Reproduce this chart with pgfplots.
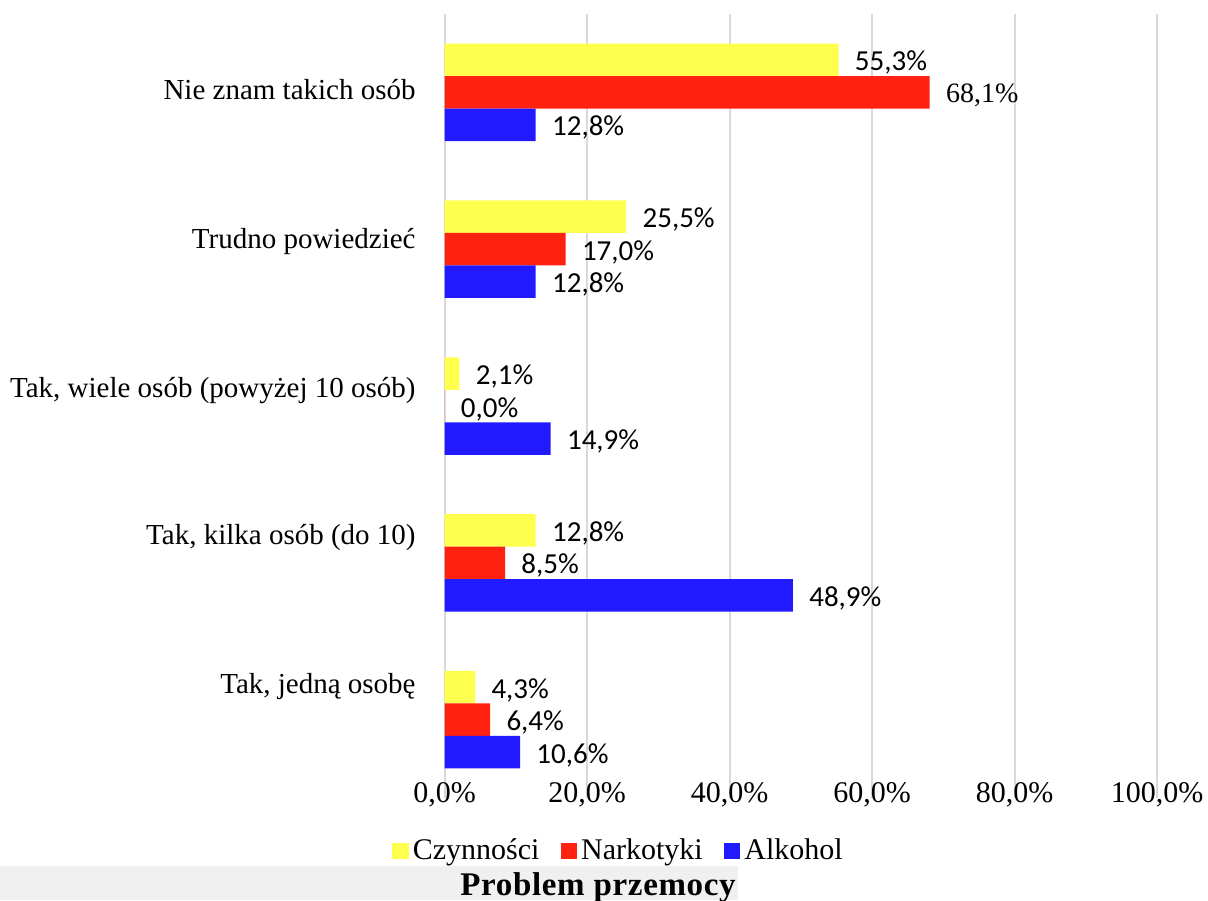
\documentclass[border=0pt]{standalone}
\usepackage{fontspec}
\setmainfont{Liberation Serif}
\newfontfamily\calibri{Carlito}
\newfontfamily\titlefont[LetterSpace=2]{Liberation Serif}
\usepackage{pgfplots}
\pgfplotsset{compat=1.18}

\definecolor{czyn}{RGB}{255,255,77}
\definecolor{nark}{RGB}{255,34,17}
\definecolor{alko}{RGB}{34,26,255}
\definecolor{gridgray}{RGB}{217,217,217}
\definecolor{titlebg}{RGB}{240,240,240}

% category label, raised by #1 above the group centre
\newcommand\ylab[2]{\smash{\raisebox{#1}{#2}}}

\begin{document}
\begin{tikzpicture}
\path[use as bounding box] (0,0) rectangle (604pt,450pt);
\fill[titlebg] (0,0) rectangle (369pt,17pt);
\begin{scope}
  \clip (0,0) rectangle (369pt,17pt);
  \node[anchor=base west, inner sep=0pt] at (230pt,2.5pt)
    {\titlefont\bfseries\fontsize{16.5}{18}\selectfont Problem przemocy};
\end{scope}
\begin{axis}[
  at={(222.25pt,51pt)}, anchor=south west,
  width=356.25pt, height=392pt, scale only axis,
  xbar, bar width=16.25pt,
  xmin=0, xmax=100, ymin=-0.5, ymax=4.5,
  axis line style={draw=none},
  major tick length=0pt,
  xmajorgrids, ymajorgrids=false,
  grid style={gridgray, line width=1pt},
  xtick={0,20,...,100},
  xticklabel={\pgfmathprintnumber[fixed,fixed zerofill,precision=1,use comma]{\tick}\%},
  xticklabel style={anchor=base, inner sep=0pt, yshift=-2pt,
    font=\fontsize{15}{18}\selectfont},
  /pgf/number format/assume math mode=true,
  ytick={0,1,2,3,4},
  yticklabels={
    {\ylab{13.3pt}{Tak, jedną osobę}},
    {\ylab{9pt}{Tak, kilka osób (do 10)}},
    {\ylab{4.5pt}{Tak, wiele osób (powyżej 10 osób)}},
    {\ylab{0.5pt}{Trudno powiedzieć}},
    {\ylab{-3.8pt}{Nie znam takich osób}}},
  yticklabel style={anchor=east, inner sep=0pt, xshift=-14.25pt,
    font=\fontsize{14.5}{17}\selectfont},
  nodes near coords, point meta=explicit symbolic,
  nodes near coords style={anchor=west, inner sep=0pt, xshift=8pt, yshift=-1.5pt,
    font=\calibri\fontsize{14.5}{17}\selectfont, text=black},
  legend style={at={(0.2456,-0.0676)}, anchor=center, legend columns=-1,
    draw=none, fill=none, font=\fontsize{15}{18}\selectfont,
    /tikz/every even column/.append style={column sep=8.5pt}},
  legend image code/.code={\fill[#1] (0pt,-4pt) rectangle (8.3pt,4pt);},
]
  % Czynności
  \addplot[fill=czyn, draw=none, bar shift=16.25pt] coordinates {
    (4.3,0) [4,3\%] (12.8,1) [12,8\%] (2.1,2) [2,1\%]
    (25.5,3) [25,5\%] (55.3,4) [55,3\%]
  };
  \addlegendentry{Czynności}
  % Narkotyki
  \addplot[fill=nark, draw=none, bar shift=0pt] coordinates {
    (6.4,0) [6,4\%] (8.5,1) [8,5\%] (0.0,2) [0,0\%]
    (17.0,3) [17,0\%] (68.1,4) [{\rmfamily\fontsize{14}{17}\selectfont 68,1\%}]
  };
  \addlegendentry{Narkotyki}
  % Alkohol
  \addplot[fill=alko, draw=none, bar shift=-16.25pt] coordinates {
    (10.6,0) [10,6\%] (48.9,1) [48,9\%] (14.9,2) [14,9\%]
    (12.8,3) [12,8\%] (12.8,4) [12,8\%]
  };
  \addlegendentry{Alkohol}
\end{axis}
\end{tikzpicture}
\end{document}
